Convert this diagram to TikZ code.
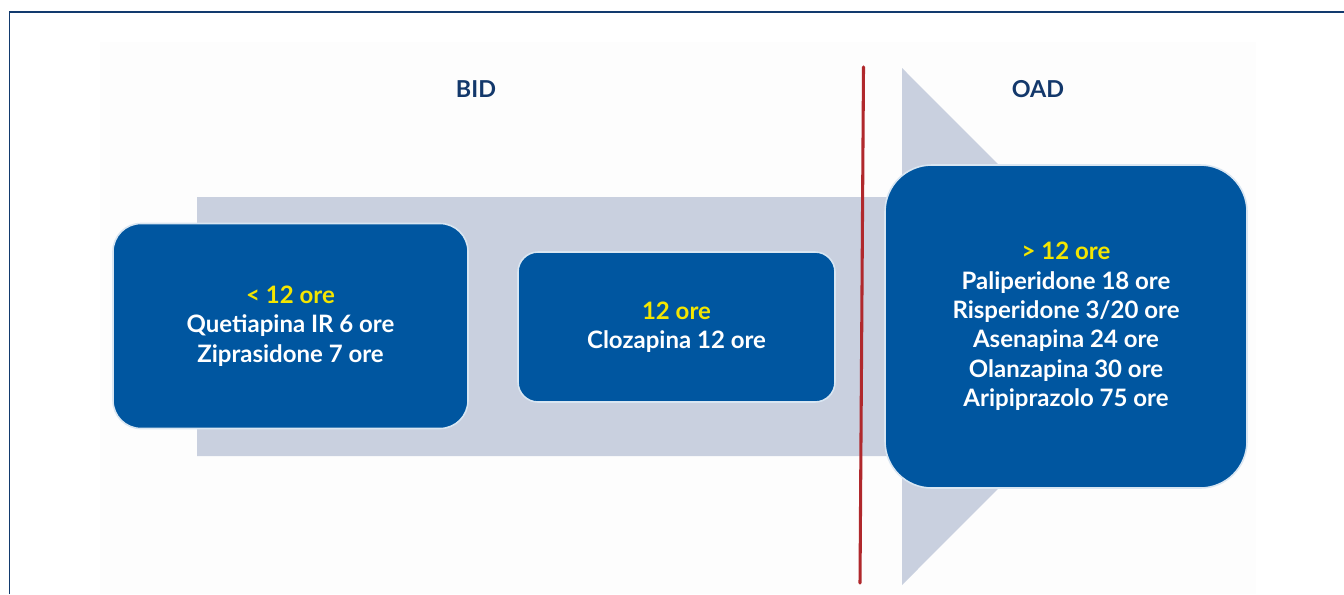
\documentclass[tikz,border=0pt]{standalone}
\usepackage{fontspec}
\setmainfont{Lato}
\definecolor{frame}{HTML}{123A6E}
\definecolor{arrowgray}{HTML}{C9D0DF}
\definecolor{boxblue}{HTML}{0056A0}
\definecolor{boxedge}{HTML}{D9E6F2}
\definecolor{ttl}{HTML}{13386B}
\definecolor{yel}{HTML}{F4E600}
\definecolor{redline}{HTML}{B0282C}
\definecolor{faint}{HTML}{FDFDFD}
\begin{document}
\begin{tikzpicture}[x=0.75pt,y=-0.75pt,
  box/.style={draw=boxedge, line width=1.2pt, fill=boxblue, text=white, align=center,
    font=\bfseries\fontsize{18}{22}\selectfont, inner sep=0pt},
  ttlstyle/.style={text=ttl, font=\bfseries\fontsize{17.5}{20}\selectfont, inner sep=0pt}]
\useasboundingbox (0,0) rectangle (1344,594);
\fill[white] (0,0) rectangle (1344,594);
\fill[faint] (100,42) rectangle (1256,594);
\draw[frame, line width=1.2pt] (9.5,594) -- (9.5,12) -- (1344,12);
% big arrow
\fill[arrowgray] (197,197) -- (902,197) -- (902,68) -- (1160,326.5) -- (902,585) -- (902,456) -- (197,456) -- cycle;
% boxes
\node[box, minimum width={355*0.75pt}, minimum height={205*0.75pt}, rounded corners=21pt] (b1) at (290.5,326)
  {{\color{yel}< 12 ore}\\Quetiapina IR 6 ore\\Ziprasidone 7 ore};
\node[box, minimum width={317*0.75pt}, minimum height={150*0.75pt}, rounded corners=15pt] (b2) at (676.5,327)
  {{\color{yel}12 ore}\\Clozapina 12 ore};
% red separator
\coordinate (rtop) at (863.5,67);
\coordinate (rbot) at (860,583);
\draw[redline, line width=2.3pt, line cap=round] (rtop) -- (rbot);
\node[box, minimum width={362*0.75pt}, minimum height={323*0.75pt}, rounded corners=35pt] (b3) at (1066,326.5)
  {{\color{yel}> 12 ore}\\Paliperidone 18 ore\\Risperidone 3/20 ore\\Asenapina 24 ore\\Olanzapina 30 ore\\Aripiprazolo 75 ore};
\node[ttlstyle] (bid) at (476,89) {BID};
\node[ttlstyle] (oad) at (1038,89) {OAD};
\end{tikzpicture}
\end{document}
